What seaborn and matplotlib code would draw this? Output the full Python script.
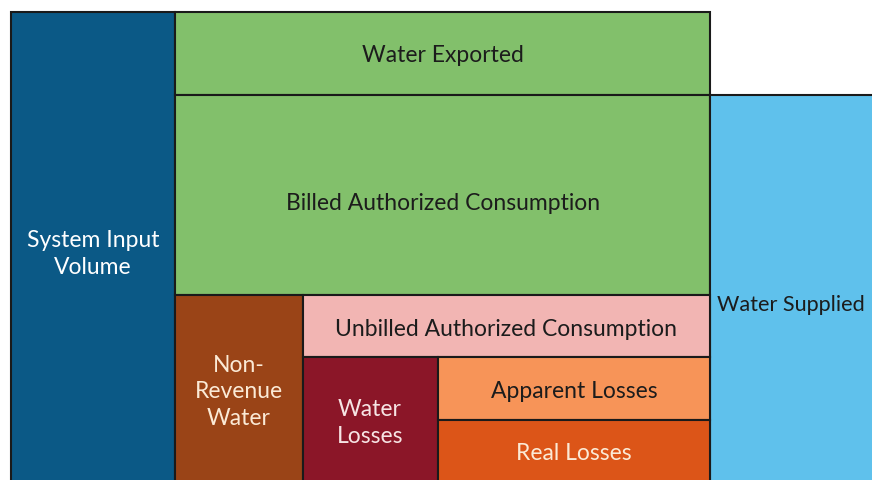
import matplotlib
matplotlib.use("Agg")
import matplotlib.pyplot as plt
import seaborn as sns

sns.set_theme(style="white")
plt.rcParams['font.family'] = ['Lato', 'DejaVu Sans']

# Water balance boxes (reference-unit spans)
labels = ["System Input\nVolume", "Water Exported", "Billed Authorized Consumption",
          "Water Supplied", "Non-\nRevenue\nWater", "Unbilled Authorized Consumption",
          "Water\nLosses", "Apparent Losses", "Real Losses"]
lefts = [11, 175, 175, 710, 175, 303, 303, 438, 438]
widths = [164, 535, 535, 200, 128, 407, 135, 272, 272]
tops = [12, 12, 95, 95, 295, 295, 357, 357, 420]
heights = [480, 83, 200, 400, 200, 62, 130, 63, 70]
colors = ["#0b5986", "#82c06b", "#82c06b", "#5fc1ec", "#9a4417", "#f2b5b3",
          "#8b1628", "#f79458", "#dc5518"]
text_colors = ["#ffffff", "#1c1c1c", "#1c1c1c", "#1c1c1c", "#fbead6", "#1c1c1c",
               "#f7e4e4", "#1c1c1c", "#fbead6"]
text_x = [93, 443, 443, 717, 239, 506, 370, 574, 574]
text_y = [254, 56, 204, 305, 392, 330, 423, 391, 454]
text_ha = ["center"] * 3 + ["left"] + ["center"] * 5
text_sizes = [16.5, 16.5, 16.5, 15.6, 16.5, 16.5, 16.5, 16.5, 16.5]

fig = plt.figure(figsize=(8.72, 4.8), dpi=100)
ax = fig.add_axes([0, 0, 1, 1])
ax.bar(lefts, heights, width=widths, bottom=tops, align="edge",
       color=colors, edgecolor="#1a1a1a", linewidth=1.5)
for lab, x, y, c, ha, fs in zip(labels, text_x, text_y, text_colors, text_ha, text_sizes):
    ax.text(x, y, lab, ha=ha, va="center", color=c, fontsize=fs,
            linespacing=1.3, clip_on=True)
ax.set_xlim(0, 872)
ax.set_ylim(480, 0)
ax.axis("off")
fig.savefig("out.png", dpi=100, facecolor="white")
